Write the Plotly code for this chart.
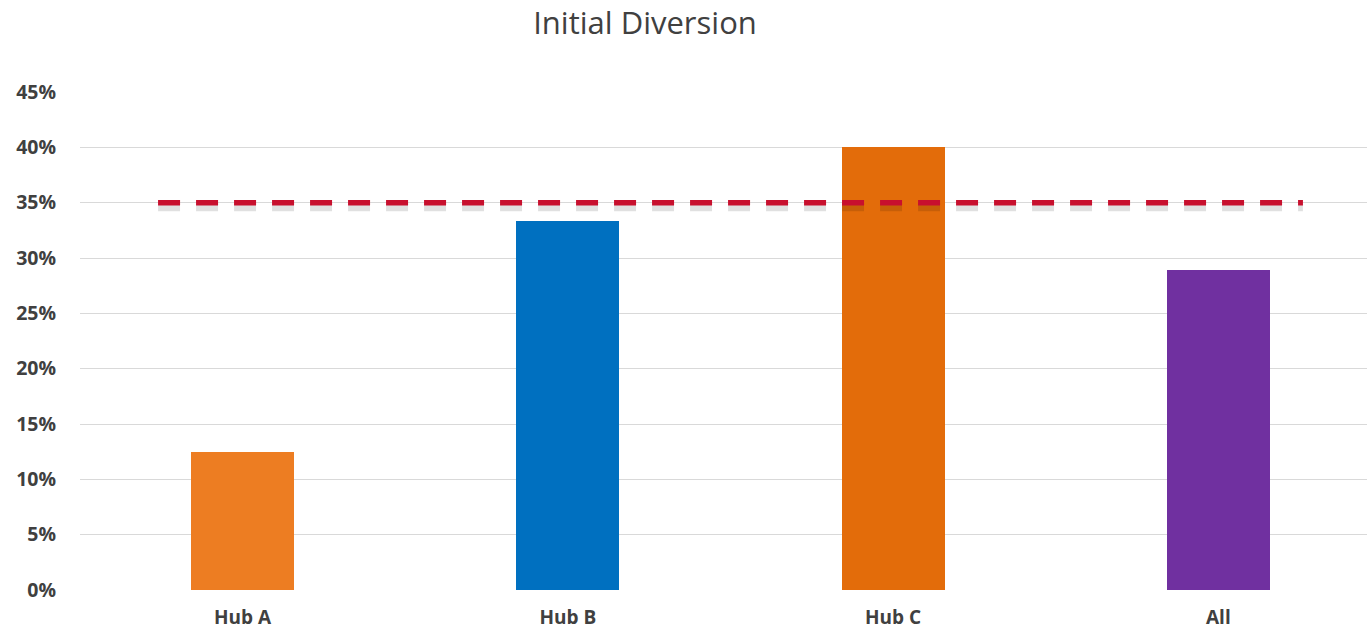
import plotly.graph_objects as go

categories = ["Hub A", "Hub B", "Hub C", "All"]
values = [0.125, 0.333, 0.400, 0.289]
colors = ["#ED7D22", "#0070C0", "#E36C0A", "#7030A0"]
target = 0.35
tick_vals = [0, 0.05, 0.10, 0.15, 0.20, 0.25, 0.30, 0.35, 0.40, 0.45]
tick_text = ["0%", "5%", "10%", "15%", "20%", "25%", "30%", "35%", "40%", "45%"]

fig = go.Figure()
fig.add_trace(go.Bar(x=categories, y=values, marker=dict(color=colors, line=dict(width=0)),
                     width=0.316, hoverinfo="x+y"))

# soft shadow of target line
fig.add_shape(type="line", xref="x", yref="y", x0=-0.26, x1=3.26, y0=target - 0.0042, y1=target - 0.0042,
              line=dict(color="rgba(0,0,0,0.12)", width=8, dash="22px,16px"), layer="above")
fig.add_shape(type="line", xref="x", yref="y", x0=-0.26, x1=3.26, y0=target, y1=target,
              line=dict(color="#C8102E", width=5.5, dash="22px,16px"), layer="above")

fig.update_layout(
    width=1367, height=631,
    margin=dict(l=80, r=0, t=92, b=41),
    paper_bgcolor="white", plot_bgcolor="white",
    showlegend=False,
    bargap=0,
    title=dict(text="Initial Diversion", x=645/1367, xanchor="center", xref="container",
               y=1 - 23/631, yanchor="middle", yref="container",
               font=dict(family="Open Sans, sans-serif", size=31, color="#404040")),
    font=dict(family="Open Sans, sans-serif", color="#404040"),
)
fig.update_xaxes(range=[-0.5, 3.457], showgrid=False, showline=False, zeroline=False, automargin=False,
                 tickfont=dict(size=19, color="#404040", family="Open Sans, sans-serif", weight="bold"),
                 ticks="", ticklabelstandoff=14)
fig.update_yaxes(range=[0, 0.45], tickvals=tick_vals, ticktext=tick_text, automargin=False,
                 showgrid=True, gridcolor="#D9D9D9", gridwidth=1.3, zeroline=False, showline=False,
                 tickfont=dict(size=19.5, color="#404040", family="Open Sans, sans-serif", weight="bold"),
                 ticks="", ticklabelstandoff=23)

fig.write_html("out.html", config={"displayModeBar": False},
               post_script="document.body.style.margin='0';document.body.style.overflow='hidden';")
